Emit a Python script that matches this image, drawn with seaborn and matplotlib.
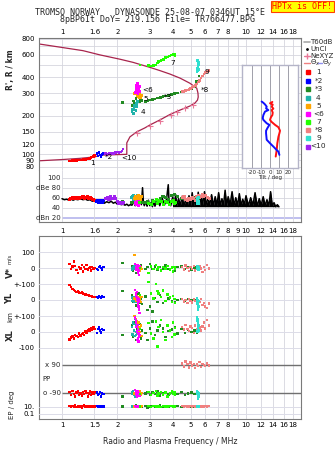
import numpy as np
import pandas as pd
import matplotlib
matplotlib.use("Agg")
import matplotlib.pyplot as plt
import seaborn as sns
from matplotlib.lines import Line2D
from matplotlib.ticker import NullLocator

# ---------------- axis definitions ----------------
freq_ticks = [1, 1.5, 2, 3, 4, 5, 6, 7, 8, 9, 10, 12, 14, 16, 18]
freq_labels_top = ['1', '1.6', '2', '3', '4', '5', '6', '7', '8', '', '10', '12', '14', '16', '18']
freq_labels_mid = ['1', '1.6', '2', '3', '4', '5', '6', '7', '8', '9', '10', '12', '14', '16', '18']
freq_labels_bot = ['1', '1.5', '2', '3', '4', '5', '6', '7', '8', '', '10', '12', '14', '16', '18']
height_ticks = [80, 90, 100, 120, 150, 200, 300, 400, 600, 800]
height_extra_grid = [250, 500, 700]
db_ticks = [100, 80, 60, 40, 20]
db_labels = ['100', 'dBe 80', '60', '40', 'dBn 20']

# ---------------- plasma frequency profile (dark red) ----------------
prof_f = [0.75, 1.00, 1.25, 1.51, 1.61, 2.00, 2.25, 2.25, 2.34, 2.55, 2.82, 3.01, 3.41, 3.86,
          4.38, 4.96, 5.28, 5.45, 5.50, 5.48, 5.40, 4.96, 4.38, 3.86, 3.41, 3.01, 2.43, 2.07,
          1.61, 1.30, 0.75]
prof_h = [89, 91, 93, 95.5, 98.5, 99.5, 100, 123, 137, 150, 161, 170, 186, 205,
          222, 239, 252, 266, 281, 302, 329, 360, 395, 425, 452, 479, 525, 555,
          600, 648, 731]
nex_f = [2.55, 3.01, 3.41, 3.90, 4.23, 4.67, 5.17]
nex_h = [148, 167, 183, 204, 216, 229, 242]

# ---------------- tilt inset ----------------
tiltx_h = [257, 251, 245, 236, 228, 222, 212, 203, 195, 186, 180, 170, 163, 153, 146, 137, 122, 108, 96]
tiltx_deg = [2.6, 0.0, 3.0, 1.9, 3.7, 1.9, 3.0, 2.6, 1.0, 0.0, 1.5, 5.6, 9.3, 11.1, 10.4, 9.3, 8.1, 7.4, 6.3]
tilty_h = [259, 253, 246, 236, 229, 222, 216, 203, 192, 186, 175, 170, 160, 153, 146, 130, 122, 115, 108, 105, 99]
tilty_deg = [-9.3, -7.4, -5.6, -3.7, -4.4, -1.9, -5.6, -7.4, -8.1, -7.4, -3.7, -0.7, -3.0, -4.4, -4.4,
             -3.7, 0.0, 3.7, 7.4, 9.3, 10.4]

# ---------------- amplitude (black) ----------------
amp_f = [1.00, 1.03, 1.06, 1.09, 1.12, 1.15, 1.18, 1.22, 1.26, 1.30, 1.34, 1.38, 1.42, 1.46, 1.50,
         1.54, 1.58, 1.62, 1.66, 1.70, 1.75, 1.80, 1.85, 1.90, 1.95, 2.00,
         2.05, 2.10, 2.15, 2.20, 2.25, 2.30, 2.35, 2.40, 2.45, 2.50,
         2.55, 2.60, 2.65, 2.70, 2.74, 2.77, 2.80, 2.85, 2.90, 2.95, 3.00,
         3.05, 3.10, 3.15, 3.20, 3.30, 3.40, 3.50, 3.60, 3.70, 3.78, 3.82, 3.90, 4.00,
         4.05, 4.15, 4.20, 4.30, 4.40, 4.50, 4.60, 4.70, 4.80, 4.90, 5.00,
         5.10, 5.20, 5.30, 5.40, 5.50, 5.60, 5.70, 5.80, 5.95, 6.05,
         6.20, 6.35, 6.50, 6.65, 6.80, 6.95, 7.10, 7.25, 7.40, 7.55, 7.70, 7.85, 8.00,
         8.20, 8.40, 8.60, 8.80, 9.00, 9.20, 9.40, 9.60, 9.80, 10.0,
         10.3, 10.6, 10.9, 11.2, 11.5, 11.8, 12.1, 12.4, 12.7, 13.0, 13.3, 13.6, 13.9, 14.2, 14.5, 14.8, 15.1]
amp_db = [58, 56, 57, 55, 57, 55, 57, 56, 58, 56, 57, 55, 56, 53, 54,
          51, 53, 50, 52, 49, 52, 50, 53, 49, 51, 47,
          48, 46, 47, 45, 47, 44, 46, 45, 52, 44,
          50, 45, 55, 46, 80, 50, 44, 52, 43, 55, 44,
          50, 42, 53, 43, 56, 44, 60, 45, 57, 86, 50, 44, 62,
          43, 66, 44, 58, 45, 63, 43, 57, 44, 64, 45,
          70, 44, 62, 46, 71, 44, 65, 45, 72, 44,
          60, 46, 66, 44, 62, 45, 70, 44, 58, 45, 75, 44, 62,
          46, 72, 44, 60, 45, 68, 44, 57, 46, 64,
          44, 60, 45, 70, 43, 58, 45, 62, 44, 56, 43, 72, 44, 50, 42, 46, 42]
amp_floor = 42

# ---------------- echo traces ----------------
TRACES = ['1', '*2', '*3', '4', '5', '<6', '7', '*8', '9', '<10']
COLORS = {'1': '#ff0000', '*2': '#0000ff', '*3': '#228b22', '4': '#20b2aa', '5': '#ffa500',
          '<6': '#ff00ff', '7': '#22ff00', '*8': '#f08080', '9': '#30e0d0', '<10': '#a020f0'}

f1 = [1.10, 1.12, 1.14, 1.16, 1.18, 1.20, 1.22, 1.24, 1.26, 1.28, 1.30, 1.32, 1.34, 1.36, 1.38, 1.40, 1.42, 1.44, 1.46, 1.48, 1.50]
h1 = [89, 89, 89.5, 89, 89.5, 89, 90, 90, 90.5, 90, 91, 91, 91.5, 92, 92, 93, 93, 94, 95, 96, 98]
db1 = [57, 58, 60, 59, 61, 58, 60, 59, 61, 60, 62, 59, 61, 60, 62, 58, 60, 59, 57, 56, 55]
v1 = [25, -8, 10, 40, 13, -13, -33, 5, -2, 19, -23, 8, -5, 20, -10, 0, 3, -15, 5, -2, 0]
yl1 = [95, 80, 70, 62, 58, 52, 55, 48, 44, 46, 40, 38, 35, 32, 33, 28, 25, 27, 22, 20, 18]
xl1 = [-46, -35, -29, -40, -19, -25, -30, -10, -22, -13, -5, -18, 2, -8, 10, 17, 5, 23, 12, 28, 20]
pp1 = [-80, -100, -75, -95, -110, -85, -78, -100, -90, -105, -80, -95, -76, -88, -110, -92, -78, -100, -85, -95, -82]
ep1 = [12, 8, 15, 10, 20, 7, 11, 16, 9, 6, 13, 18, 10, 8, 14, 11, 7, 12, 9, 15, 10]

f2 = [1.55, 1.57, 1.59, 1.61, 1.63, 1.65, 1.68]
h2 = [101, 97, 103, 99, 96, 100, 102]
db2 = [52, 54, 50, 55, 53, 51, 54]
v2 = [-5, -13, 8, 13, 0, -10, 5]
yl2 = [20, 15, 25, 18, 12, 22, 19]
xl2 = [-6, 17, 28, 10, -2, 20, 12]
pp2 = [-85, -100, -95, -80, -110, -90, -95]
ep2 = [12, 8, 14, 10, 9, 16, 11]

f3 = [2.13, 2.40, 2.44, 2.48, 2.52, 2.56, 2.60, 2.64, 2.68, 2.72,
      2.85, 2.92, 3.00, 3.10, 3.20, 3.30, 3.42, 3.54, 3.66, 3.80,
      3.95, 4.10, 4.25, 4.45, 4.65, 4.85, 5.05, 5.25, 5.40, 5.54]
h3 = [254, 240, 262, 250, 275, 245, 285, 258, 270, 265,
      258, 262, 266, 270, 272, 276, 279, 283, 286, 290,
      294, 298, 303, 308, 313, 318, 324, 340, 370, 410]
db3 = [52, 50, 54, 51, 55, 49, 53, 50, 52, 51,
       50, 53, 48, 55, 52, 50, 58, 62, 60, 57,
       64, 67, 62, 58, 60, 56, 59, 61, 57, 55]
v3 = [33, 10, -20, 5, -30, 15, 0, -10, 20, -5,
      -8, 8, 25, -5, 10, -12, 5, -3, 15, -8,
      0, -15, 5, 10, -5, 8, -10, 3, 0, -5]
yl3 = [58, 30, -10, 20, -35, 5, 40, -20, 10, -25,
       21, -63, -42, -73, 11, -11, 31, -20, -5, 10,
       -8, -11, 0, 5, -3, 8, -2, 0, 4, -6]
xl3 = [-19, 40, -30, 60, -50, 20, -10, 50, -40, 10,
       -8, -50, 23, 65, -20, 10, 40, 23, -30, 5,
       15, 33, -10, 20, -5, 15, 0, 10, -8, 5]
pp3 = [-110, -80, -95, -100, -85, -105, -90, -75, -98, -88,
       -92, -80, -100, -85, -95, -78, -105, -90, -82, -98,
       -75, -88, -95, -80, -100, -92, -85, -95, -90, -88]
ep3 = [9, 14, 8, 12, 18, 10, 7, 15, 11, 9,
       13, 6, 10, 16, 8, 12, 20, 9, 11, 7,
       14, 10, 13, 8, 12, 15, 9, 11, 10, 13]

f4 = [2.40, 2.42, 2.44, 2.46, 2.48, 2.50, 2.52, 2.54, 2.56, 2.58, 2.45, 2.52]
h4 = [215, 225, 210, 230, 240, 222, 250, 235, 245, 258, 208, 218]
db4 = [60, 63, 58, 65, 61, 57, 62, 59, 64, 60, 56, 58]
v4 = [-13, 0, 5, -8, 10, -5, 3, -10, 8, -3, 0, 12]
yl4 = [15, -5, 10, -10, 20, 0, -8, 5, 12, -3, 8, -12]
xl4 = [30, -15, 60, 10, -25, 85, 0, 40, -10, 20, 50, -20]
pp4 = [-85, -95, -78, -100, -90, -110, -82, -96, -88, -105, -92, -80]
ep4 = [10, 14, 8, 12, 9, 16, 11, 7, 13, 10, 9, 12]

f5 = [2.48, 2.52, 2.55, 2.58, 2.60, 2.62, 2.64, 2.66, 2.68, 2.70, 2.56, 2.63]
h5 = [300, 310, 290, 315, 285, 305, 280, 295, 278, 288, 319, 298]
db5 = [58, 62, 55, 60, 64, 57, 61, 59, 56, 63, 60, 58]
v5 = [82, 5, -10, 8, 0, -5, 10, -15, 3, -8, 12, 0]
yl5 = [10, -5, 25, -10, 0, 15, -8, 5, -12, 20, 3, -3]
xl5 = [100, 80, 50, 20, 60, -10, 30, 0, 40, -25, 70, 10]
pp5 = [-90, -80, -100, -95, -85, -108, -78, -92, -98, -88, -102, -84]
ep5 = [11, 8, 13, 9, 15, 10, 12, 7, 10, 14, 9, 11]

f6 = [2.50, 2.52, 2.54, 2.56, 2.58, 2.60, 2.62, 2.64, 2.53, 2.57, 2.61, 2.55, 2.59, 2.63]
h6 = [305, 320, 335, 350, 360, 340, 325, 310, 345, 330, 315, 355, 300, 338]
db6 = [48, 50, 46, 52, 47, 45, 49, 51, 46, 50, 48, 47, 52, 49]
v6 = [25, 5, -10, 15, -25, 0, -45, 10, -5, 20, -15, 8, -30, 3]
yl6 = [63, 40, 20, 0, -21, -40, -59, -80, 30, 10, -10, 50, -30, 5]
xl6 = [92, 60, 33, 2, -40, -60, 15, -20, 75, 45, -10, -50, 20, -30]
pp6 = [-70, -85, -100, -112, -78, -95, -90, -105, -80, -98, -88, -75, -108, -92]
ep6 = [12, 9, 15, 8, 11, 13, 10, 7, 14, 9, 16, 10, 12, 8]

f7 = [2.65, 2.95, 3.05, 3.15, 3.25, 3.30, 3.35, 3.45, 3.55, 3.65, 3.75, 3.85, 3.95, 4.02, 4.08, 4.12]
h7 = [500, 495, 492, 498, 500, 520, 535, 545, 555, 570, 580, 590, 600, 612, 605, 595]
db7 = [50, 48, 46, 52, 57, 49, 55, 52, 47, 53, 50, 46, 52, 55, 48, 50]
v7 = [0, -33, 10, -8, 19, -5, 5, -15, 8, -2, 12, -10, 3, -23, 5, -6]
yl7 = [30, 115, 42, 10, 100, 55, 42, 20, 60, -5, 35, 15, -11, 25, 5, -20]
xl7 = [20, 58, -10, -40, 65, -92, 30, 75, 0, -50, 40, 10, -30, 60, -15, 25]
pp7 = [-95, -80, -100, -88, -75, -105, -92, -82, -98, -86, -110, -90, -78, -96, -84, -100]
ep7 = [10, 13, 8, 12, 9, 15, 11, 7, 14, 10, 9, 12, 16, 8, 11, 13]

f8 = [4.50, 4.60, 4.70, 4.80, 4.90, 5.00, 5.10, 5.20, 5.30, 5.40, 5.50, 5.60, 5.70, 5.80, 5.90, 6.00, 6.15, 6.30]
h8 = [309, 312, 316, 319, 323, 327, 332, 338, 345, 355, 368, 380, 395, 410, 425, 438, 445, 452]
db8 = [60, 62, 57, 55, 59, 56, 60, 58, 54, 62, 65, 60, 63, 66, 62, 64, 60, 58]
v8 = [5, -10, 15, 0, -20, 8, -5, 12, -15, 3, -8, 10, -3, -25, 6, -12, 18, -2]
yl8 = [5, -10, 0, -20, 8, -5, -15, 3, -8, -25, 0, -12, 5, -30, -18, -40, -52, -22]
xl8 = [30, 15, 45, 20, 5, 35, 25, -8, 40, 18, 50, 28, 10, 35, 60, 22, 75, 40]
pp8 = [100, 80, 111, 95, 75, 105, 88, 98, 70, 92, 85, 108, 78, 96, 90, 82, 100, 88]
ep8 = [12, 9, 14, 10, 8, 13, 11, 16, 9, 12, 10, 7, 14, 11, 9, 13, 10, 12]

f9 = [5.42, 5.44, 5.46, 5.48, 5.50, 5.52, 5.50, 5.47, 5.53, 5.45]
h9 = [440, 455, 470, 485, 500, 515, 530, 540, 460, 450]
db9 = [52, 55, 48, 58, 60, 50, 53, 56, 49, 57]
v9 = [5, -5, 10, 0, -8, 3, -3, 8, -10, 2]
yl9 = [11, 0, -10, -20, -30, -40, -50, -63, -5, -25]
xl9 = [92, 80, 70, 60, 50, 40, 30, 20, 10, 2]
pp9 = [-75, -85, -95, -105, -122, -90, -80, -100, -110, -88]
ep9 = [10, 12, 9, 14, 11, 8, 13, 10, 12, 9]

f10 = [1.72, 1.76, 1.80, 1.84, 1.88, 1.92, 1.96, 2.00, 2.04, 2.08, 2.12, 2.15]
h10 = [101, 100, 101, 102, 101, 102, 103, 104, 103, 104, 106, 110]
db10 = [58, 60, 56, 62, 59, 63, 58, 52, 48, 50, 49, 51]

# trace label anchors (text annotations in the height panel)
label_f = [1.42, 1.70, 3.56, 2.66, 2.77, 2.72, 3.87, 5.65, 5.93, 2.10]
label_h = [85.5, 96, 280, 216, 272, 320, 516, 319, 439, 93]

# legend text
legA_labels = ['T60dB', 'UnCl', 'NeXYZ']
legB_labels = ['1', '*2', '*3', '4', '5', '<6', '7', '*8', '9', '<10']

# ---------------- tables ----------------
echo = {'1': (f1, h1, db1), '*2': (f2, h2, db2), '*3': (f3, h3, db3), '4': (f4, h4, db4),
        '5': (f5, h5, db5), '<6': (f6, h6, db6), '7': (f7, h7, db7), '*8': (f8, h8, db8),
        '9': (f9, h9, db9), '<10': (f10, h10, db10)}
motion = {'1': (f1, v1, yl1, xl1, pp1, ep1), '*2': (f2, v2, yl2, xl2, pp2, ep2),
          '*3': (f3, v3, yl3, xl3, pp3, ep3), '4': (f4, v4, yl4, xl4, pp4, ep4),
          '5': (f5, v5, yl5, xl5, pp5, ep5), '<6': (f6, v6, yl6, xl6, pp6, ep6),
          '7': (f7, v7, yl7, xl7, pp7, ep7), '*8': (f8, v8, yl8, xl8, pp8, ep8),
          '9': (f9, v9, yl9, xl9, pp9, ep9)}
echo_df = pd.concat([pd.DataFrame({'trace': t, 'f': a[0], 'h': a[1], 'db': a[2]}) for t, a in echo.items()])
mot_df = pd.concat([pd.DataFrame({'trace': t, 'f': a[0], 'v': a[1], 'yl': a[2], 'xl': a[3],
                                  'pp': a[4], 'ep': a[5]}) for t, a in motion.items()])
amp_df = pd.DataFrame({'f': amp_f, 'db': amp_db})

# ---------------- style ----------------
sns.set_theme(style="white")
plt.rcParams['font.family'] = ['DejaVu Sans']
plt.rcParams['mathtext.fontset'] = 'dejavusans'

W, H = 335, 451
FMIN, FMAX = 0.75, 19.9
GRID = '#d6d6de'
BANDGRID = '#dcdce8'
EDGE = '#7a7a7a'
PROF = '#a8244c'
TS = 5  # tick font size

fig = plt.figure(figsize=(W / 100, H / 100), dpi=100)
fig.patch.set_facecolor('white')


def rect(x0, y0, x1, y1):
    return [x0 / W, 1 - y1 / H, (x1 - x0) / W, (y1 - y0) / H]


def fx(x):
    return x / W


def fy(y):
    return 1 - y / H


def freq_axis(ax, labels=None, pad=2):
    ax.set_xscale('log')
    ax.set_xlim(FMIN, FMAX)
    if labels is None:
        ax.set_xticks([])
    else:
        ax.set_xticks(freq_ticks)
        ax.set_xticklabels(labels)
    ax.xaxis.set_minor_locator(NullLocator())
    ax.tick_params(length=0, labelsize=TS, pad=pad, colors='black')


def scat(ax, data, y, s=3):
    sns.scatterplot(data=data, x='f', y=y, hue='trace', palette=COLORS, hue_order=TRACES,
                    marker='s', s=s, linewidth=0, legend=False, ax=ax, zorder=3, clip_on=False)
    ax.set_xlabel('')
    ax.set_ylabel('')


# ---------------- height panel ----------------
ax_h = fig.add_axes(rect(39, 38, 301, 170))
freq_axis(ax_h, freq_labels_top, pad=2)
ax_h.xaxis.tick_top()
ax_h.set_yscale('log')
ax_h.set_ylim(75.4, 814)
ax_h.set_yticks(height_ticks)
ax_h.set_yticklabels([str(v) for v in height_ticks])
ax_h.yaxis.set_minor_locator(NullLocator())
ax_h.tick_params(axis='y', length=0, labelsize=TS, pad=3)
ax_h.tick_params(axis='x', top=False, labeltop=True, labelbottom=False, length=0)
ax_h.grid(True, color=GRID, lw=0.6)
for hh in height_extra_grid:
    ax_h.axhline(hh, color=GRID, lw=0.6, zorder=0.5)
for sp in ['top', 'left', 'right']:
    ax_h.spines[sp].set_color(EDGE)
    ax_h.spines[sp].set_linewidth(0.8)
ax_h.spines['bottom'].set_visible(False)

sns.lineplot(x=prof_f, y=prof_h, sort=False, estimator=None, color=PROF, lw=0.9, ax=ax_h, zorder=2)
scat(ax_h, echo_df, 'h', s=3.5)
sns.scatterplot(x=nex_f, y=nex_h, marker='+', color='#e87898', s=14, linewidth=0.8, ax=ax_h, zorder=4)
ax_h.set_xlabel('')
ax_h.set_ylabel('')
for t, lf, lh in zip(TRACES, label_f, label_h):
    ax_h.text(lf, lh, t, fontsize=5.2, ha='left', va='center', color='black', zorder=5)

fig.text(fx(10), fy(70), "R', R / km", rotation=90, fontsize=5.5, fontweight='bold',
         ha='center', va='center')

# ---------------- tilt inset ----------------
ax_in = fig.add_axes(rect(242.3, 65, 298.3, 168.3))
ax_in.set_zorder(6)
ax_in.set_facecolor('white')
ax_in.set_xlim(-30.8, 31.4)
ax_in.set_yscale('log')
ax_in.set_ylim(77.7, 500.4)
ax_in.set_yticks([])
ax_in.yaxis.set_minor_locator(NullLocator())
ax_in.set_xticks([-20, -10, 0, 10, 20])
ax_in.set_xticklabels(['-20', '-10', '0', '10', '20'])
ax_in.tick_params(length=0, labelsize=4, pad=1)
ax_in.grid(axis='x', color='#a0a0aa', lw=0.7)
for sp in ax_in.spines.values():
    sp.set_color('#b4b4c8')
    sp.set_linewidth(1.0)
sns.lineplot(x=tiltx_deg, y=tiltx_h, sort=False, estimator=None, color='#ff1010', lw=1.4, ax=ax_in)
sns.lineplot(x=tilty_deg, y=tilty_h, sort=False, estimator=None, color='#1010ff', lw=1.4, ax=ax_in)
ax_in.set_ylabel('')
ax_in.set_xlabel('Tilt / deg', fontsize=4, labelpad=0.5)

# ---------------- amplitude panel ----------------
ax_db = fig.add_axes(rect(39, 170, 301, 222))
freq_axis(ax_db, freq_labels_mid, pad=4)
ax_db.set_ylim(11.4, 115.4)
ax_db.set_yticks([])
ax_db.grid(axis='x', color=GRID, lw=0.6)
ax_db.spines['top'].set_visible(False)
for sp in ['bottom', 'left', 'right']:
    ax_db.spines[sp].set_color(EDGE)
    ax_db.spines[sp].set_linewidth(0.8)
ax_db.hlines(db_ticks[:-1], 1.0, FMAX, color=GRID, lw=0.6, zorder=0.5)
ax_db.hlines(db_ticks[-1], 1.0, FMAX, color='#b4b4ec', lw=1.2, zorder=0.5)
for val, lab in zip(db_ticks, db_labels):
    ax_db.text(0.985, val, lab, ha='right', va='center', fontsize=TS)
dense = amp_df['f'] >= 4.0
ax_db.fill_between(amp_df['f'], amp_floor, amp_df['db'], where=dense, color='black', lw=0, zorder=2)
sns.lineplot(data=amp_df, x='f', y='db', sort=False, estimator=None, color='black', lw=1.1, ax=ax_db, zorder=2)
scat(ax_db, echo_df, 'db', s=5)

# ---------------- bottom panel frame ----------------
BOT = (39, 236, 301, 419)
ax_b = fig.add_axes(rect(*BOT))
freq_axis(ax_b, freq_labels_bot, pad=2.5)
ax_b.set_yticks([])
ax_b.grid(axis='x', color=GRID, lw=0.6)
for sp in ax_b.spines.values():
    sp.set_color(EDGE)
    sp.set_linewidth(0.8)
ax_b.set_xlabel('Radio and Plasma Frequency / MHz', fontsize=5.5, labelpad=6)


def band(ylim, ticks=None, labels=None, yscale='linear', r=BOT):
    a = fig.add_axes(rect(*r))
    freq_axis(a)
    a.set_yscale(yscale)
    a.set_ylim(*ylim)
    a.yaxis.set_minor_locator(NullLocator())
    a.patch.set_visible(False)
    for sp in a.spines.values():
        sp.set_visible(False)
    if ticks:
        a.set_yticks(ticks)
        a.set_yticklabels(labels)
        a.grid(axis='y', color=BANDGRID, lw=0.7)
    else:
        a.set_yticks([])
    a.tick_params(axis='y', length=0, labelsize=TS, pad=3)
    return a


ax_v = band((-949.7, 201.3), [100, 0], ['100', '0'])
scat(ax_v, mot_df, 'v')
ax_yl = band((-748.4, 402.5), [100, 0], ['+-100', '0'])
scat(ax_yl, mot_df, 'yl')
ax_xl = band((-547.2, 603.8), [100, 0, -100], ['+-100', '0', '-100'])
scat(ax_xl, mot_df, 'xl')
ax_pp = band((-253.5, 910.6))
ax_pp.hlines([90, -90], 1.0, FMAX, color='#707070', lw=1.0, zorder=1)
ax_pp.text(0.985, 90, 'x 90', ha='right', va='center', fontsize=TS)
ax_pp.text(0.985, -90, 'o -90', ha='right', va='center', fontsize=TS)
ax_pp.text(0.785, 0, 'PP', ha='left', va='center', fontsize=TS)
scat(ax_pp, mot_df, 'pp')
ax_ep = band((0.00419, 1982), [10, 0.1], ['10.', '0.1'], yscale='log', r=(39, 398, 301, 419))
scat(ax_ep, mot_df, 'ep')

fig.text(fx(10), fy(273), 'V*', rotation=90, fontsize=6, fontweight='bold', ha='center', va='center')
fig.text(fx(10), fy(259), 'm/s', rotation=90, fontsize=4, ha='center', va='center')
fig.text(fx(10), fy(298), 'YL', rotation=90, fontsize=6, fontweight='bold', ha='center', va='center')
fig.text(fx(10), fy(316.5), 'km', rotation=90, fontsize=5, ha='center', va='center')
fig.text(fx(10), fy(335), 'XL', rotation=90, fontsize=6, fontweight='bold', ha='center', va='center')
fig.text(fx(12), fy(405), 'EP / deg', rotation=90, fontsize=5, ha='center', va='center')

# ---------------- titles ----------------
fig.text(fx(150), fy(12.3), 'TROMSO NORWAY   DYNASONDE 25-08-07 0346UT 15°E',
         family='DejaVu Sans Mono', fontsize=6, ha='center', va='center')
fig.text(fx(157.5), fy(20), '8pBP6It DoY= 219.156 File= TR766477.BPG',
         family='DejaVu Sans Mono', fontsize=6, ha='center', va='center')
fig.text(fx(302.5), fy(6.5), 'HPTx is OFF!', family='DejaVu Sans Mono', fontsize=6,
         color='#ff0000', ha='center', va='center',
         bbox=dict(boxstyle='square,pad=0.15', facecolor='#ffff00', edgecolor='#ff4000', lw=0.8))

# ---------------- legend (drawn as key glyphs + text) ----------------
rowsA = [42.3, 48.7, 55.7]
keyA = [dict(color='#a8a8a8', lw=1.2),
        dict(color='black', lw=0, marker='.', ms=2, markevery=[1]),
        dict(color='#e87898', lw=0.8, marker='+', ms=4, markevery=[1])]
for yy, lab, kw in zip(rowsA, legA_labels, keyA):
    fig.add_artist(Line2D([fx(303.5), fx(306.5), fx(309.5)], [fy(yy)] * 3, transform=fig.transFigure, **kw))
    fig.text(fx(310.5), fy(yy), lab, fontsize=5, ha='left', va='center')
fig.add_artist(Line2D([fx(303.5), fx(309.5)], [fy(63.3)] * 2, transform=fig.transFigure, color='#f08080', lw=1.0))
fig.text(fx(310.3), fy(63.3), r'$\Theta_x$', fontsize=5, ha='left', va='center')
fig.add_artist(Line2D([fx(318), fx(322)], [fy(63.3)] * 2, transform=fig.transFigure, color='#9090f0', lw=1.0))
fig.text(fx(322.3), fy(63.3), r'$\Theta_y$', fontsize=5, ha='left', va='center')

rowsB = [72.3, 80.7, 89.0, 97.5, 105.8, 114.0, 122.0, 130.0, 138.3, 146.5]
for yy, t, lab in zip(rowsB, TRACES, legB_labels):
    fig.add_artist(Line2D([fx(307.5)], [fy(yy)], transform=fig.transFigure, color=COLORS[t],
                          marker='s', ms=2.6, lw=0))
    fig.text(fx(318.5), fy(yy), lab, fontsize=5.3, ha='center', va='center')

fig.savefig('out.png', dpi=100)
